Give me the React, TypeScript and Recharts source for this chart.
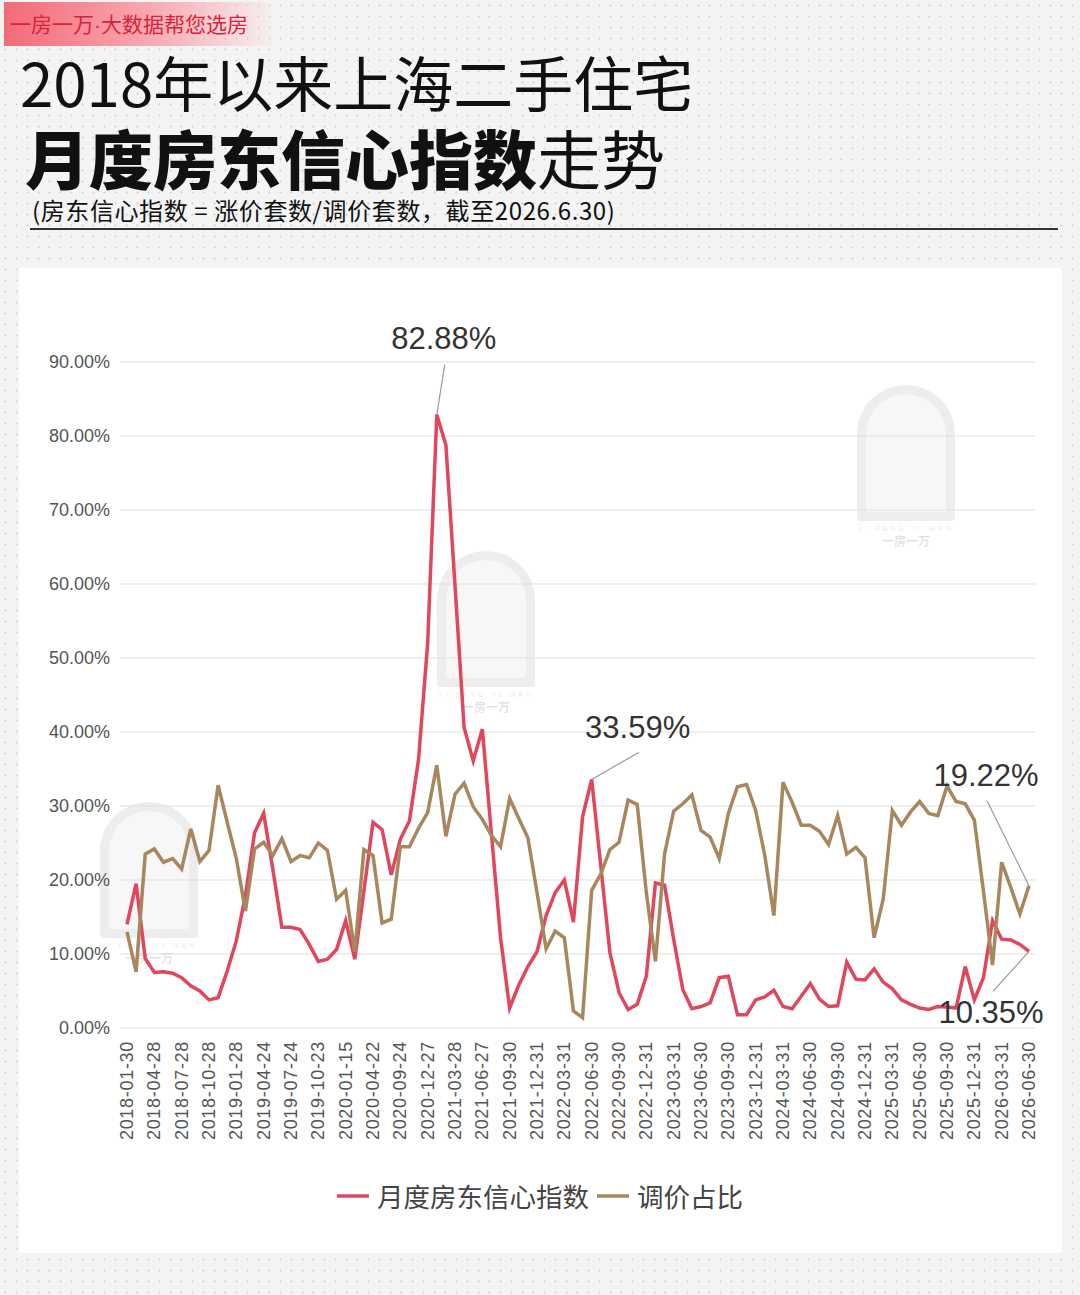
import { CartesianGrid, Legend, Line, LineChart, XAxis, YAxis } from "recharts";

const dates = [
  "2018-01-30", "2018-02-28", "2018-03-30", "2018-04-28", "2018-05-30", "2018-06-28",
  "2018-07-28", "2018-08-30", "2018-09-28", "2018-10-28", "2018-11-28", "2018-12-28",
  "2019-01-28", "2019-02-28", "2019-03-28", "2019-04-24", "2019-05-24", "2019-06-24",
  "2019-07-24", "2019-08-24", "2019-09-24", "2019-10-23", "2019-11-23", "2019-12-23",
  "2020-01-15", "2020-02-15", "2020-03-22", "2020-04-22", "2020-06-24", "2020-08-24",
  "2020-09-24", "2020-10-27", "2020-11-27", "2020-12-27", "2021-01-28", "2021-02-28",
  "2021-03-28", "2021-04-27", "2021-05-27", "2021-06-27", "2021-07-31", "2021-08-31",
  "2021-09-30", "2021-10-31", "2021-11-30", "2021-12-31", "2022-01-31", "2022-02-28",
  "2022-03-31", "2022-04-30", "2022-05-31", "2022-06-30", "2022-07-31", "2022-08-31",
  "2022-09-30", "2022-10-31", "2022-11-30", "2022-12-31", "2023-01-31", "2023-02-28",
  "2023-03-31", "2023-04-30", "2023-05-31", "2023-06-30", "2023-07-31", "2023-08-31",
  "2023-09-30", "2023-10-31", "2023-11-30", "2023-12-31", "2024-01-31", "2024-02-29",
  "2024-03-31", "2024-04-30", "2024-05-31", "2024-06-30", "2024-07-31", "2024-08-31",
  "2024-09-30", "2024-10-31", "2024-11-30", "2024-12-31", "2025-01-31", "2025-02-28",
  "2025-03-31", "2025-04-30", "2025-05-31", "2025-06-30", "2025-07-31", "2025-08-31",
  "2025-09-30", "2025-10-31", "2025-11-30", "2025-12-31", "2026-01-31", "2026-02-28",
  "2026-03-31", "2026-04-30", "2026-05-31", "2026-06-30",
];

// 月度房东信心指数 (%)
const confidence = [
  14.0, 19.5, 9.4, 7.5, 7.6, 7.4, 6.8, 5.7, 5.0, 3.8, 4.1, 7.7,
  11.8, 17.9, 26.4, 29.0, 21.5, 13.6, 13.6, 13.3, 11.3, 9.0, 9.3, 10.6,
  14.5, 9.3, 18.5, 27.8, 26.8, 20.7, 25.5, 28.0, 36.3, 52.0, 82.88, 78.8,
  59.8, 40.6, 36.1, 40.4, 26.2, 12.2, 2.7, 5.8, 8.3, 10.3, 15.2, 18.3,
  20.0, 14.3, 28.5, 33.59, 21.9, 10.2, 4.8, 2.5, 3.2, 7.0, 19.6, 19.3,
  12.0, 5.2, 2.6, 2.9, 3.4, 6.8, 7.0, 1.8, 1.8, 3.8, 4.2, 5.1,
  2.9, 2.6, 4.3, 6.0, 3.9, 2.9, 3.0, 8.9, 6.6, 6.5, 8.0, 6.2,
  5.3, 3.8, 3.2, 2.7, 2.5, 2.9, 2.85, 2.7, 8.3, 3.8, 6.8, 14.5,
  12.0, 11.9, 11.3, 10.35,
];

// 调价占比 (%)
const adjustShare = [
  13.0, 7.6, 23.5, 24.2, 22.4, 22.9, 21.5, 26.9, 22.5, 24.0, 32.8, 27.8,
  22.9, 15.8, 24.2, 25.1, 23.3, 25.6, 22.5, 23.3, 23.0, 25.0, 24.0, 17.4,
  18.6, 10.3, 24.1, 23.3, 14.2, 14.7, 24.5, 24.5, 27.0, 29.1, 35.5, 25.9,
  31.6, 33.1, 29.9, 28.2, 26.0, 24.5, 31.0, 28.3, 25.7, 18.3, 10.7, 13.1,
  12.2, 2.3, 1.4, 18.6, 20.8, 24.1, 25.1, 30.8, 30.2, 18.3, 9.0, 23.5,
  29.3, 30.3, 31.5, 26.7, 25.8, 22.9, 29.0, 32.6, 32.9, 29.4, 23.3, 15.2,
  33.2, 30.5, 27.4, 27.4, 26.6, 24.8, 28.7, 23.5, 24.4, 23.0, 12.2, 17.4,
  29.4, 27.4, 29.2, 30.6, 29.0, 28.7, 32.7, 30.6, 30.3, 28.1, 18.5, 8.5,
  22.4, 19.0, 15.4, 19.22,
];

const yTicks = [0, 10, 20, 30, 40, 50, 60, 70, 80, 90];

const RED = "#E0465C";
const BROWN = "#A8875F";
const CJK = '"Noto Sans CJK SC", "Noto Sans", sans-serif';
const LATIN = '"Liberation Sans", Arial, sans-serif';

const rows = dates.map((d, i) => ({
  date: d,
  confidence: confidence[i],
  adjust: adjustShare[i],
}));

// callouts: leader end (lx, ly) and text anchor (tx, ty) relative to the point
type Note = { lx: number; ly: number; tx: number; ty: number };
const redNotes: Record<number, Note> = {
  34: { lx: 8, ly: -50, tx: 7, ty: -66 },
  51: { lx: 47, ly: -27, tx: 46, ty: -41 },
  99: { lx: -36, ly: 40, tx: -38, ty: 72 },
};
const brownNotes: Record<number, Note> = {
  99: { lx: -42, ly: -85, tx: -43, ty: -100 },
};

function callout(notes: Record<number, Note>) {
  return (props: any) => {
    const { x, y, index, value } = props;
    const n = notes[index];
    if (!n) return null;
    return (
      <g>
        <line x1={x} y1={y} x2={x + n.lx} y2={y + n.ly} stroke="#999" strokeWidth={1.2} />
        <text
          x={x + n.tx}
          y={y + n.ty}
          textAnchor="middle"
          fontFamily={LATIN}
          fontSize={31}
          fill="#333"
        >
          {Number(value).toFixed(2)}%
        </text>
      </g>
    );
  };
}

function DateTick(props: any) {
  const { x, y, payload } = props;
  return (
    <g transform={`translate(${x},${y})`}>
      <text
        transform="rotate(-90)"
        textAnchor="end"
        dominantBaseline="central"
        fontFamily={LATIN}
        fontSize={18}
        letterSpacing={0.7}
        fill="#555"
      >
        {payload.value}
      </text>
    </g>
  );
}

function LegendBox() {
  const items = [
    { name: "月度房东信心指数", color: RED },
    { name: "调价占比", color: BROWN },
  ];
  return (
    <div style={{ display: "flex", justifyContent: "center", gap: 8 }}>
      {items.map((it) => (
        <div key={it.name} style={{ display: "flex", alignItems: "center" }}>
          <svg width={40} height={10}>
            <line x1={0} y1={5} x2={32} y2={5} stroke={it.color} strokeWidth={3.5} />
          </svg>
          <span style={{ fontFamily: CJK, fontSize: 26.5, color: "#444" }}>{it.name}</span>
        </div>
      ))}
    </div>
  );
}

function Watermark({ left, top }: { left: number; top: number }) {
  return (
    <div style={{ position: "absolute", left, top, width: 98, height: 170 }}>
      <div
        style={{
          width: 98,
          height: 136,
          borderRadius: "49px 49px 4px 4px",
          background: "rgba(0,0,0,0.07)",
          position: "relative",
        }}
      >
        <div
          style={{
            position: "absolute",
            left: 9,
            top: 9,
            width: 80,
            height: 118,
            borderRadius: "40px 40px 2px 2px",
            background: "rgba(255,255,255,0.55)",
          }}
        />
      </div>
      <div
        style={{
          textAlign: "center",
          fontFamily: LATIN,
          fontSize: 7,
          letterSpacing: 3,
          color: "rgba(0,0,0,0.12)",
          marginTop: 4,
        }}
      >
        YI FANG YI WAN
      </div>
      <div
        style={{
          textAlign: "center",
          fontFamily: CJK,
          fontSize: 12,
          fontWeight: 700,
          color: "rgba(0,0,0,0.12)",
        }}
      >
        一房一万
      </div>
    </div>
  );
}

export default function App() {
  return (
    <div
      style={{
        position: "absolute",
        left: 0,
        top: 0,
        width: 1080,
        height: 1295,
        overflow: "hidden",
        backgroundColor: "#f4f4f4",
        backgroundImage: "radial-gradient(#d4d4d4 0.9px, transparent 1.2px)",
        backgroundSize: "11px 11px",
      }}
    >
      <div
        style={{
          position: "absolute",
          left: 4,
          top: 2,
          width: 268,
          height: 44,
          background: "linear-gradient(90deg, #f36a78 0%, #f8a9b1 55%, rgba(250,220,224,0.2) 100%)",
        }}
      />
      <div
        style={{
          position: "absolute",
          left: 10,
          top: 8,
          fontFamily: CJK,
          fontSize: 21,
          color: "#d9233a",
          lineHeight: "30px",
          whiteSpace: "nowrap",
        }}
      >
        一房一万<span style={{ fontFamily: LATIN }}>·</span>大数据帮您选房
      </div>
      <div
        style={{
          position: "absolute",
          left: 20,
          top: 50,
          fontFamily: CJK,
          fontSize: 60,
          lineHeight: "62px",
          color: "#111",
          whiteSpace: "nowrap",
        }}
      >
        2018年以来上海二手住宅
      </div>
      <div
        style={{
          position: "absolute",
          left: 25,
          top: 122,
          fontFamily: CJK,
          fontSize: 64,
          lineHeight: "68px",
          color: "#111",
          whiteSpace: "nowrap",
        }}
      >
        <span style={{ fontWeight: 900 }}>月度房东信心指数</span>
        <span>走势</span>
      </div>
      <div
        style={{
          position: "absolute",
          left: 32,
          top: 195,
          fontFamily: CJK,
          fontSize: 24,
          lineHeight: "30px",
          letterSpacing: 0.6,
          color: "#111",
          whiteSpace: "nowrap",
        }}
      >
        (房东信心指数 = 涨价套数/调价套数，截至2026.6.30)
      </div>
      <div
        style={{
          position: "absolute",
          left: 30,
          top: 228,
          width: 1028,
          height: 1.5,
          background: "#333",
        }}
      />
      <div
        style={{
          position: "absolute",
          left: 19,
          top: 268,
          width: 1043,
          height: 985,
          background: "#fff",
        }}
      />
      <Watermark left={857} top={385} />
      <Watermark left={437} top={551} />
      <Watermark left={100} top={802} />
      <div style={{ position: "absolute", left: 0, top: 0 }}>
        <LineChart
          width={1080}
          height={1295}
          data={rows}
          margin={{ top: 362, right: 45, bottom: 147, left: 0 }}
        >
          <CartesianGrid vertical={false} stroke="#e0e0e0" strokeWidth={1.2} />
          <XAxis
            dataKey="date"
            interval={2}
            tickLine={false}
            axisLine={false}
            height={120}
            tickMargin={7}
            padding={{ left: 7, right: 6 }}
            tick={<DateTick />}
          />
          <YAxis
            domain={[0, 90]}
            ticks={yTicks}
            width={120}
            tickLine={false}
            axisLine={false}
            tickMargin={4}
            tickFormatter={(v: number) => `${v.toFixed(2)}%`}
            tick={{ fill: "#555", fontSize: 18, fontFamily: LATIN }}
          />
          <Legend
            verticalAlign="middle"
            content={<LegendBox />}
            wrapperStyle={{ top: 1176, left: 0, width: 1080 }}
          />
          <Line
            dataKey="confidence"
            name="月度房东信心指数"
            type="linear"
            stroke={RED}
            strokeWidth={3.5}
            dot={false}
            isAnimationActive={false}
            label={callout(redNotes)}
          />
          <Line
            dataKey="adjust"
            name="调价占比"
            type="linear"
            stroke={BROWN}
            strokeWidth={3.5}
            dot={false}
            isAnimationActive={false}
            label={callout(brownNotes)}
          />
        </LineChart>
      </div>
    </div>
  );
}
